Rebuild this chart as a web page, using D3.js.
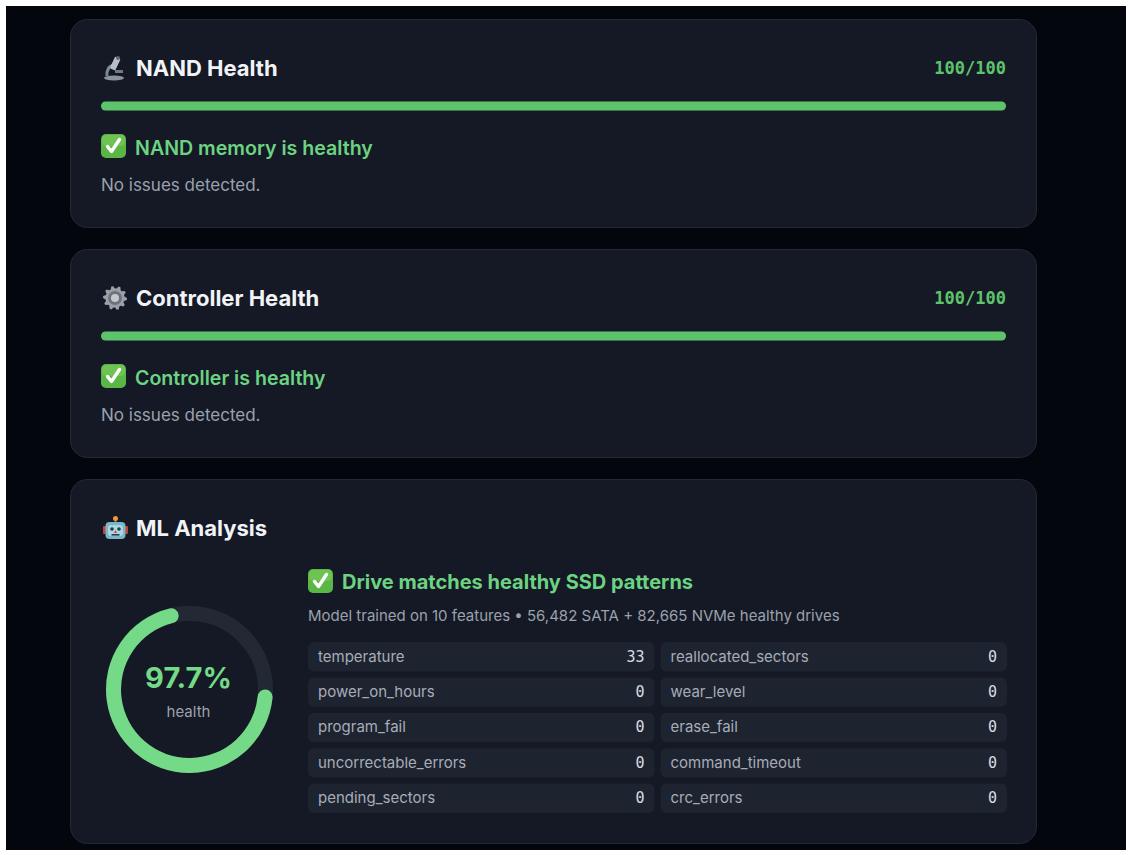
<!DOCTYPE html>
<html>
<head>
<meta charset="utf-8">
<script src="https://cdn.jsdelivr.net/npm/d3@7"></script>
<style>
  html, body { margin: 0; padding: 0; background: #ffffff; }
  svg { display: block; }
  text { font-family: Inter, "Noto Sans", sans-serif; }
  .mono { font-family: "DejaVu Sans Mono", "Liberation Mono", monospace; }
</style>
</head>
<body>
<div id="chart"></div>
<script>
// data
var cardTitles = ["NAND Health", "Controller Health", "ML Analysis"];
var cardIcons = ["microscope", "gear", "robot"];
var cardScores = [100, 100];
var statusTexts = ["NAND memory is healthy", "Controller is healthy"];
var detailTexts = ["No issues detected.", "No issues detected."];

var mlScore = 97.7;
var mlStatus = "Drive matches healthy SSD patterns";
var mlNote = "Model trained on 10 features \u2022 56,482 SATA + 82,665 NVMe healthy drives";
var featureNames = ["temperature", "reallocated_sectors", "power_on_hours", "wear_level",
  "program_fail", "erase_fail", "uncorrectable_errors", "command_timeout",
  "pending_sectors", "crc_errors"];
var featureValues = [33, 0, 0, 0, 0, 0, 0, 0, 0, 0];

var W = 1131, H = 855;
var svg = d3.select("#chart").append("svg")
  .attr("width", W)
  .attr("height", H);

svg.append("rect").attr("width", W).attr("height", H).attr("fill", "#ffffff");
svg.append("rect").attr("x", 6).attr("y", 6).attr("width", 1120).attr("height", 844).attr("fill", "#04060d");

var cardY = [19, 249, 479], cardH = [209, 209, 365];
var cardX = 70, cardW = 967;

var green = "#5dc46b", greenText = "#6cd382", textMain = "#f1f3f6", textDim = "#9ba1ac";

// icons
function checkIcon(g, x, y) {
  var c = g.append("g").attr("transform", "translate(" + x + "," + y + ")");
  c.append("rect").attr("width", 25).attr("height", 24).attr("rx", 5).attr("fill", "#5ab645");
  c.append("rect").attr("x", 1).attr("y", 1).attr("width", 23).attr("height", 11).attr("rx", 4).attr("fill", "#7ccc5e").attr("opacity", 0.6);
  c.append("path").attr("d", "M6.5,12.5 L10.5,17.5 L18.5,5.5")
    .attr("fill", "none").attr("stroke", "#ffffff").attr("stroke-width", 3.4)
    .attr("stroke-linecap", "round").attr("stroke-linejoin", "round");
}

function drawIcon(g, kind, x, y) {
  var ic = g.append("g").attr("transform", "translate(" + x + "," + y + ")");
  if (kind === "gear") {
    var pts = [], n = 10;
    for (var i = 0; i < n * 4; i++) {
      var a = i / (n * 4) * 2 * Math.PI;
      var r = (i % 4 < 2) ? 12 : 9.5;
      pts.push([12 + r * Math.cos(a), 12 + r * Math.sin(a)]);
    }
    ic.append("path").attr("d", d3.line()(pts) + "Z").attr("fill", "#9aa0a8");
    ic.append("circle").attr("cx", 12).attr("cy", 12).attr("r", 7).attr("fill", "#6d737c");
    ic.append("circle").attr("cx", 12).attr("cy", 12).attr("r", 4).attr("fill", "#c5c9ce");
  } else if (kind === "microscope") {
    ic.append("ellipse").attr("cx", 11).attr("cy", 22).attr("rx", 10).attr("ry", 2.5).attr("fill", "#8a939e");
    ic.append("path").attr("d", "M4,20 Q3,12 10,9").attr("fill", "none").attr("stroke", "#7d8792").attr("stroke-width", 3);
    ic.append("rect").attr("x", 9).attr("y", 1).attr("width", 6).attr("height", 13).attr("rx", 1.5)
      .attr("transform", "rotate(25,12,8)").attr("fill", "#b7c0ca");
    ic.append("rect").attr("x", 12).attr("y", 14).attr("width", 8).attr("height", 3).attr("fill", "#6f7a86");
    ic.append("circle").attr("cx", 15).attr("cy", 2).attr("r", 2).attr("fill", "#5e6975");
  } else if (kind === "robot") {
    ic.append("line").attr("x1", 12.5).attr("y1", 2).attr("x2", 12.5).attr("y2", 6).attr("stroke", "#8b8f96").attr("stroke-width", 1.5);
    ic.append("circle").attr("cx", 12.5).attr("cy", 2.5).attr("r", 2.5).attr("fill", "#f39a2b");
    ic.append("rect").attr("x", 0).attr("y", 10).attr("width", 3).attr("height", 8).attr("rx", 1).attr("fill", "#c0453f");
    ic.append("rect").attr("x", 22).attr("y", 10).attr("width", 3).attr("height", 8).attr("rx", 1).attr("fill", "#c0453f");
    ic.append("rect").attr("x", 2.5).attr("y", 6).attr("width", 20).attr("height", 17).attr("rx", 4).attr("fill", "#79b7c6");
    ic.append("rect").attr("x", 5).attr("y", 9).attr("width", 15).attr("height", 11).attr("rx", 3).attr("fill", "#a9d6e0");
    ic.append("circle").attr("cx", 9).attr("cy", 13).attr("r", 1.8).attr("fill", "#2c3a46");
    ic.append("circle").attr("cx", 16).attr("cy", 13).attr("r", 1.8).attr("fill", "#2c3a46");
    ic.append("path").attr("d", "M12.5,14 L11,17 L14,17 Z").attr("fill", "#d9473e");
    ic.append("rect").attr("x", 8.5).attr("y", 18).attr("width", 8).attr("height", 1.6).attr("fill", "#2c3a46");
  }
}

// cards
var cards = svg.selectAll("g.card")
  .data(cardTitles)
  .join("g")
  .attr("class", "card")
  .attr("transform", function(d, i) { return "translate(" + cardX + "," + cardY[i] + ")"; });

cards.append("rect")
  .attr("x", 0.5).attr("y", 0.5)
  .attr("width", cardW - 1)
  .attr("height", function(d, i) { return cardH[i] - 1; })
  .attr("rx", 17)
  .attr("fill", "#141925")
  .attr("stroke", "#232a37")
  .attr("stroke-width", 1);

cards.each(function(d, i) { drawIcon(d3.select(this), cardIcons[i], 33, 37); });

cards.append("text")
  .attr("x", 66).attr("y", 57)
  .attr("font-size", 22).attr("font-weight", 700)
  .attr("fill", textMain)
  .text(function(d) { return d; });

// score cards
var barScale = d3.scaleLinear().domain([0, 100]).range([0, 905]);
var scored = cards.filter(function(d, i) { return i < cardScores.length; });

scored.append("text")
  .attr("class", "mono")
  .attr("x", 936).attr("y", 55)
  .attr("text-anchor", "end")
  .attr("font-size", 17).attr("font-weight", 700)
  .attr("fill", green)
  .text(function(d, i) { return cardScores[i] + "/100"; });

scored.append("rect")
  .attr("x", 31).attr("y", 82.5)
  .attr("width", barScale(100)).attr("height", 9).attr("rx", 4.5)
  .attr("fill", "#222a36");
scored.append("rect")
  .attr("x", 31).attr("y", 82.5)
  .attr("width", function(d, i) { return barScale(cardScores[i]); })
  .attr("height", 9).attr("rx", 4.5)
  .attr("fill", green);

scored.each(function() { checkIcon(d3.select(this), 31, 115); });

scored.append("text")
  .attr("x", 65).attr("y", 136)
  .attr("font-size", 19.6).attr("font-weight", 600)
  .attr("fill", greenText)
  .text(function(d, i) { return statusTexts[i]; });

scored.append("text")
  .attr("x", 31).attr("y", 172)
  .attr("font-size", 17)
  .attr("fill", textDim)
  .text(function(d, i) { return detailTexts[i]; });

// ML card
var ml = d3.select(cards.nodes()[2]);

// ring: arc sweep as rendered in the original gauge
var ringScale = d3.scaleLinear().domain([0, 100]).range([0, 2 * Math.PI * 0.744]);
var cx = 119.5, cy = 210.5, rr = 76, sw = 15;
var ring = ml.append("g").attr("transform", "translate(" + cx + "," + cy + ")");
ring.append("circle").attr("r", rr).attr("fill", "none").attr("stroke", "#222935").attr("stroke-width", sw);
ring.append("path")
  .attr("d", d3.arc()
    .innerRadius(rr - sw / 2).outerRadius(rr + sw / 2)
    .startAngle(Math.PI / 2)
    .endAngle(Math.PI / 2 + ringScale(mlScore))
    .cornerRadius(sw / 2)())
  .attr("fill", "#74da88");
ring.append("text")
  .attr("x", -1).attr("y", -1.5).attr("text-anchor", "middle")
  .attr("font-size", 29).attr("font-weight", 700)
  .attr("fill", "#74da88")
  .text(mlScore + "%");
ring.append("text")
  .attr("x", -1).attr("y", 27).attr("text-anchor", "middle")
  .attr("font-size", 15)
  .attr("fill", textDim)
  .text("health");

checkIcon(ml, 238, 90);
ml.append("text")
  .attr("x", 272).attr("y", 110)
  .attr("font-size", 20).attr("font-weight", 700)
  .attr("fill", greenText)
  .text(mlStatus);
ml.append("text")
  .attr("x", 238).attr("y", 142)
  .attr("font-size", 15)
  .attr("fill", textDim)
  .text(mlNote);

// feature grid
var colX = d3.scaleBand().domain([0, 1]).range([238, 937]).paddingInner(0.0172);
var rowY = d3.scaleBand().domain(d3.range(5)).range([163, 334]).paddingInner(0.17);
var cells = ml.selectAll("g.cell")
  .data(featureNames)
  .join("g")
  .attr("class", "cell")
  .attr("transform", function(d, i) { return "translate(" + colX(i % 2) + "," + rowY(Math.floor(i / 2)) + ")"; });

cells.append("rect")
  .attr("width", colX.bandwidth())
  .attr("height", rowY.bandwidth())
  .attr("rx", 6)
  .attr("fill", "#1e2330");
cells.append("text")
  .attr("x", 10).attr("y", rowY.bandwidth() / 2 + 5)
  .attr("font-size", 15)
  .attr("fill", "#a7adb8")
  .text(function(d) { return d; });
cells.append("text")
  .attr("class", "mono")
  .attr("x", colX.bandwidth() - 10).attr("y", rowY.bandwidth() / 2 + 5)
  .attr("text-anchor", "end")
  .attr("font-size", 15)
  .attr("fill", "#d8dce2")
  .text(function(d, i) { return featureValues[i]; });
</script>
</body>
</html>
